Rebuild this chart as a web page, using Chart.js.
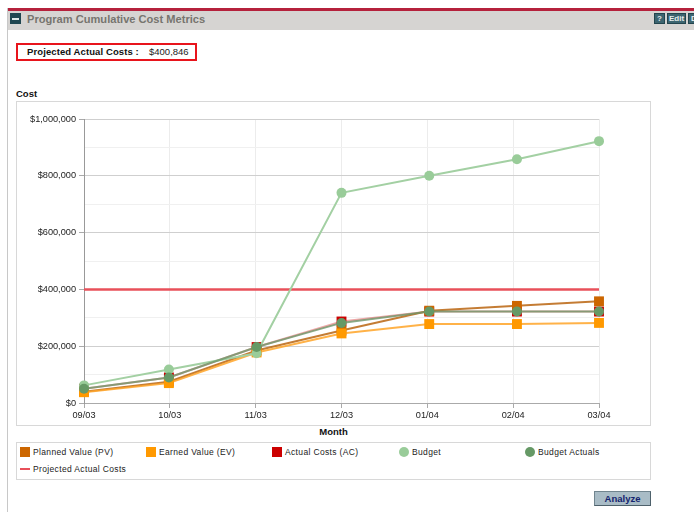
<!DOCTYPE html>
<html>
<head>
<meta charset="utf-8">
<title>Program Cumulative Cost Metrics</title>
<script src="https://cdn.jsdelivr.net/npm/chart.js@4"></script>
<style>
  html, body { margin: 0; padding: 0; background: #fff; }
  body { width: 694px; height: 512px; position: relative; overflow: hidden; font-family: "Liberation Sans", Arial, sans-serif; }
  .abs { position: absolute; white-space: nowrap; }
  #leftRule { left: 7px; top: 8px; width: 1px; height: 504px; background: #c8c8c8; }
  #topRule { left: 8px; top: 8px; right: 0; height: 3px; background: #b5213c; }
  #band { left: 8px; top: 11px; right: 0; height: 19px; background: #d6d4d2; }
  #collapse { left: 10px; top: 13px; width: 11px; height: 11px; background: #1f4650; }
  #collapse i { position: absolute; left: 2px; top: 5px; width: 7px; height: 2px; background: #dfe8e8; }
  #heading { left: 27px; top: 12px; font: bold 11.1px/15px "Liberation Sans", Arial, sans-serif; color: #77756f; }
  .btn { top: 13px; height: 11px; background: #3d6570; border: 1px solid #23454e; box-sizing: border-box; color: #e8eeee; font: bold 8px/9px "Liberation Sans", Arial, sans-serif; text-align: center; overflow: hidden; }
  #callout { left: 16px; top: 43px; width: 181px; height: 18px; border: 2px solid #e8141c; box-sizing: border-box; }
  #calloutLabel { left: 27px; top: 46px; font: bold 9.5px/12px "Liberation Sans", Arial, sans-serif; color: #111; letter-spacing: .1px; }
  #calloutValue { left: 149px; top: 46px; font: 9.5px/12px "Liberation Sans", Arial, sans-serif; color: #222; }
  #costTitle { left: 16px; top: 88px; font: bold 9.5px/12px "Liberation Sans", Arial, sans-serif; color: #111; }
  #frame { left: 16px; top: 101px; width: 635px; height: 325px; border: 1px solid #d8d8d8; box-sizing: border-box; }
  #chartBox { left: 16px; top: 101px; width: 635px; height: 325px; }
  #monthTitle { left: 16px; width: 635px; top: 426px; text-align: center; font: bold 9.5px/12px "Liberation Sans", Arial, sans-serif; color: #111; }
  #legend { left: 16px; top: 442px; width: 635px; height: 38px; border: 1px solid #d8d8d8; box-sizing: border-box; }
  .key { position: absolute; }
  .lab { position: absolute; font: 8.5px/11px "Liberation Sans", Arial, sans-serif; letter-spacing: .35px; color: #222; white-space: nowrap; }
  #analyze { left: 594px; top: 491px; width: 57px; height: 15px; background: #a9bcc6; border: 1px solid #71858f; border-right-color: #4e616b; border-bottom-color: #4e616b; box-sizing: border-box; color: #14246e; font: bold 9.5px/13px "Liberation Sans", Arial, sans-serif; text-align: center; }
</style>
</head>
<body>
  <div class="abs" id="leftRule"></div>
  <div class="abs" id="band"></div>
  <div class="abs" id="topRule"></div>
  <div class="abs" id="collapse"><i></i></div>
  <div class="abs" id="heading">Program Cumulative Cost Metrics</div>
  <div class="abs btn" style="left:654px;width:11px">?</div>
  <div class="abs btn" style="left:667px;width:19px">Edit</div>
  <div class="abs btn" style="left:688px;width:12px">D</div>

  <div class="abs" id="callout"></div>
  <div class="abs" id="calloutLabel">Projected Actual Costs :</div>
  <div class="abs" id="calloutValue">$400,846</div>

  <div class="abs" id="costTitle">Cost</div>
  <div class="abs" id="frame"></div>
  <div class="abs" id="chartBox"><canvas id="costChart" width="635" height="325"></canvas></div>
  <div class="abs" id="monthTitle">Month</div>
  <div class="abs" id="legend"></div>
  <div class="abs" id="analyze">Analyze</div>

<script>
  // Values
  const months = ['09/03', '10/03', '11/03', '12/03', '01/04', '02/04', '03/04'];
  // Marks sit by calendar date while the month ticks are evenly spaced
  const daysFromStart = [0, 30, 61, 91, 122, 153, 182];
  const plannedValue = [40000, 75000, 185000, 255000, 325000, 342000, 358000];
  const earnedValue = [38000, 70000, 178000, 245000, 278000, 278000, 282000];
  const actualCosts = [50000, 90000, 197000, 287000, 322000, 322000, 322000];
  const budget = [62000, 118000, 175000, 740000, 800000, 858000, 922000];
  const budgetActuals = [50000, 90000, 197000, 282000, 322000, 322000, 322000];
  const projectedActual = [400000, 400000, 400000, 400000, 400000, 400000, 400000];

  const seriesNames = ['Planned Value (PV)', 'Earned Value (EV)', 'Actual Costs (AC)', 'Budget', 'Budget Actuals', 'Projected Actual Costs'];
  const seriesColors = ['#cc6600', '#ff9900', '#cc0000', '#99cc99', '#669966', '#e8505a'];
  const lineColors = ['rgba(190,110,30,0.9)', 'rgba(255,165,40,0.85)', 'rgba(204,0,0,0.35)', '#a3d0a3', 'rgba(110,150,105,0.8)', '#e8505a'];
  const pointStyles = ['rect', 'rect', 'rect', 'circle', 'circle', 'line'];
  const seriesValues = [plannedValue, earnedValue, actualCosts, budget, budgetActuals, projectedActual];

  // Draw order, lowest number ends up on top
  const drawOrder = [4, 3, 5, 2, 1, 6];

  const datasets = seriesNames.map(function (name, i) {
    const isRect = pointStyles[i] === 'rect';
    return {
      label: name,
      data: seriesValues[i].map(function (v, j) { return { x: daysFromStart[j], y: v }; }),
      xAxisID: 'days',
      clip: false,
      borderColor: lineColors[i],
      backgroundColor: seriesColors[i],
      borderWidth: i === 5 ? 2.5 : 2,
      pointStyle: pointStyles[i],
      pointRadius: i === 5 ? 0 : (isRect ? 7 : 5),
      pointBorderWidth: 0,
      tension: 0,
      order: drawOrder[i],
    };
  });

  new Chart(document.getElementById('costChart'), {
    type: 'line',
    data: { labels: months, datasets: datasets },
    options: {
      responsive: false,
      animation: false,
      layout: { autoPadding: false, padding: { top: 18, right: 52, bottom: 0, left: 0 } },
      plugins: { legend: { display: false }, tooltip: { enabled: false } },
      scales: {
        days: { type: 'linear', axis: 'x', display: false, min: 0, max: 182 },
        x: {
          type: 'category',
          labels: months,
          offset: false,
          afterFit: function (scale) { scale.height = 23; },
          grid: { color: '#ececec', tickColor: '#aaaaaa', tickLength: 5 },
          border: { color: '#aaaaaa' },
          ticks: { color: '#222', font: { family: 'Liberation Sans', size: 9.2 }, maxRotation: 0, autoSkip: false, padding: 2 },
        },
        y: {
          min: 0,
          max: 1000000,
          afterFit: function (scale) { scale.width = 68; },
          grid: {
            color: function (c) { return c.tick.value % 200000 === 0 ? '#cfcfcf' : '#f0f0f0'; },
            tickColor: function (c) { return c.tick.value % 200000 === 0 ? '#aaaaaa' : 'rgba(0,0,0,0)'; },
            tickLength: 5,
          },
          border: { color: '#999999' },
          ticks: {
            stepSize: 100000,
            autoSkip: false,
            padding: 3,
            color: '#222',
            font: { family: 'Liberation Sans', size: 9.2 },
            callback: function (v) { return v % 200000 === 0 ? '$' + v.toLocaleString('en-US') : ''; },
          },
        },
      },
    },
  });

  // Legend is plain HTML under the chart
  const legend = document.getElementById('legend');
  const legendSlots = [[3, 4], [129, 4], [255, 4], [382, 4], [508, 4], [3, 21]];
  seriesNames.forEach(function (name, i) {
    const key = document.createElement('div');
    key.className = 'key';
    const x = legendSlots[i][0];
    const y = legendSlots[i][1];
    if (pointStyles[i] === 'line') {
      key.style.cssText = 'left:' + x + 'px;top:' + (y + 4) + 'px;width:10px;height:2px;background:' + seriesColors[i];
    } else {
      const round = pointStyles[i] === 'circle' ? 'border-radius:50%;' : '';
      key.style.cssText = 'left:' + x + 'px;top:' + y + 'px;width:10px;height:10px;' + round + 'background:' + seriesColors[i];
    }
    legend.appendChild(key);
    const lab = document.createElement('div');
    lab.className = 'lab';
    lab.style.left = (x + 13) + 'px';
    lab.style.top = y + 'px';
    lab.textContent = name;
    legend.appendChild(lab);
  });
</script>
</body>
</html>
